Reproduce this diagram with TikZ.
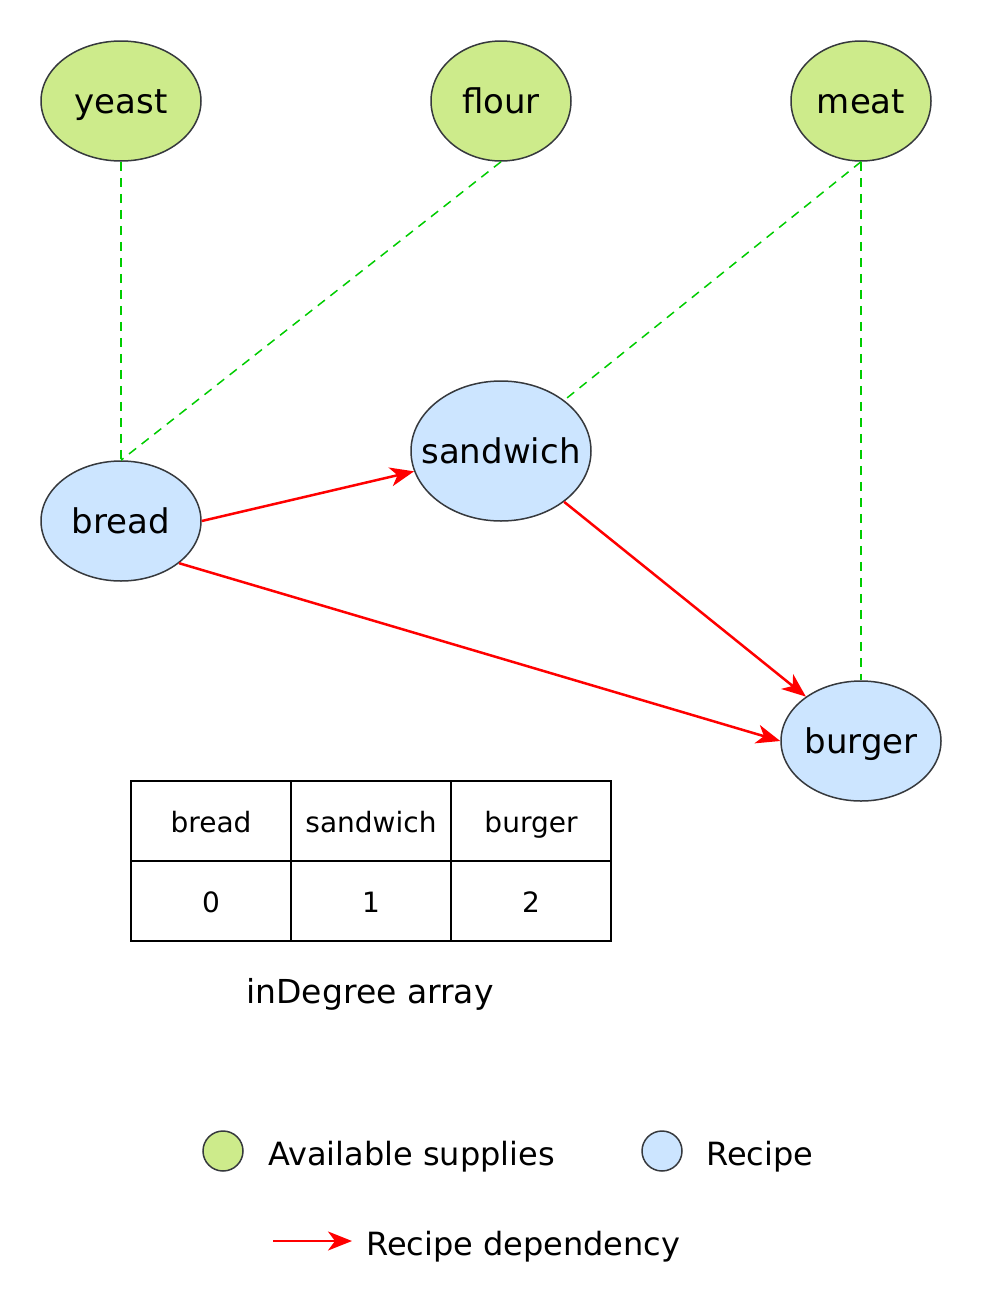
\documentclass[tikz,border=0pt]{standalone}
\usepackage{fontspec}
\setmainfont{DejaVu Sans}
\usetikzlibrary{shapes.geometric,arrows.meta}

\definecolor{supplyfill}{HTML}{CDEB8B}
\definecolor{recipefill}{HTML}{CCE5FF}
\definecolor{rim}{HTML}{36393D}
\definecolor{dashgreen}{HTML}{00CC00}

\newcommand{\lbl}[1]{\makebox[0pt]{#1}}

\tikzset{oeuf/.style = {ellipse, draw=rim, line width=1.5pt, inner sep=0pt,
                        minimum width=#1, minimum height=120pt,
                        text height=28pt, text depth=4pt,
                        font=\fontsize{34}{40}\selectfont},
         oeuf/.default=160pt,
         supply/.style = {oeuf=#1, fill=supplyfill},
         supply/.default=160pt,
         recipe/.style = {oeuf=#1, fill=recipefill},
         recipe/.default=160pt,
         dot/.style = {minimum width=40pt, minimum height=40pt,
                       text height=0pt, text depth=0pt},
         needs/.style = {draw=dashgreen, line width=1.5pt, dash pattern=on 9pt off 7pt},
         dep/.style = {draw=red, line width=2.5pt,
                       -{Stealth[length=24pt,width=19pt,inset=7pt]}},
         cell/.style = {draw, line width=1.5pt, inner sep=0pt,
                        minimum width=160pt, minimum height=80pt,
                        text height=23pt, text depth=1pt,
                        font=\fontsize{28}{34}\selectfont},
         legende/.style = {anchor=base west, inner sep=0pt, font=\fontsize{32}{38}\selectfont}
        }

\begin{document}
\begin{tikzpicture}[x=1pt, y=-1pt]
  \useasboundingbox (0,0) rectangle (984,1312);

  \node[supply]      (yeast)    at (121,101) {\lbl{yeast}};
  \node[supply=140pt] (flour)   at (501,101) {\lbl{flour}};
  \node[supply=140pt] (meat)    at (861,101) {\lbl{meat}};
  \node[recipe]      (bread)    at (121,521) {\lbl{bread}};
  \node[recipe=180pt, minimum height=140pt] (sandwich) at (501,451) {\lbl{sandwich}};
  \node[recipe]      (burger)   at (861,741) {\lbl{burger}};

  \draw[needs] (yeast.south) -- (bread.north);
  \draw[needs] (flour.south) -- (bread.north);
  \draw[needs] (meat.south)  -- (sandwich);
  \draw[needs] (meat.south)  -- (burger.north);

  \draw[dep] (bread.east) -- (sandwich);
  \draw[dep] (sandwich)   -- (burger);
  \draw[dep] (bread.-36)  -- (burger.west);

  \node[cell] (hbread)    at (211,821) {bread};
  \node[cell] (hsandwich) at (371,821) {sandwich};
  \node[cell] (hburger)   at (531,821) {burger};
  \node[cell] (vbread)    at (211,901) {0};
  \node[cell] (vsandwich) at (371,901) {1};
  \node[cell] (vburger)   at (531,901) {2};
  \node[anchor=base, inner sep=0pt, font=\fontsize{33}{40}\selectfont] (caption)
       at (370,1003) {inDegree array};

  \node[supply, dot] (keysupply) at (223,1151) {};
  \node[legende] (txtsupply) at (268,1165) {Available supplies};
  \node[recipe, dot] (keyrecipe) at (662,1151) {};
  \node[legende] (txtrecipe) at (706,1165) {Recipe};
  \coordinate (keyfrom) at (273,1241);
  \coordinate (keyto) at (352,1241);
  \node[legende] (txtdep) at (366,1255) {Recipe dependency};
  \draw[dep] (keyfrom) -- (keyto);
\end{tikzpicture}
\end{document}
